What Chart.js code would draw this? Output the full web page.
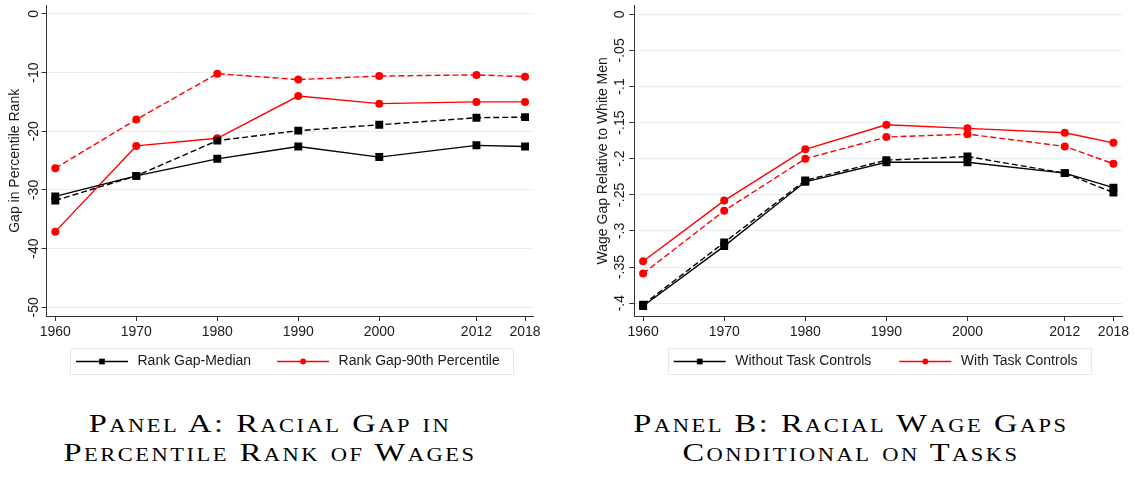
<!DOCTYPE html>
<html><head><meta charset="utf-8">
<script src="https://cdn.jsdelivr.net/npm/chart.js@4.4.1/dist/chart.umd.min.js"></script>
<style>
html,body{margin:0;padding:0;background:#fff;width:1135px;height:479px;overflow:hidden;}
.wrap{position:absolute;top:0;width:565px;height:385px;}
.cap{position:absolute;font-family:"Liberation Serif","Times New Roman",serif;font-variant:small-caps;font-size:26px;line-height:29.4px;letter-spacing:2px;text-align:center;color:#000;white-space:nowrap;transform:scaleX(1.25);transform-origin:50% 50%;}
</style></head><body>
<div class="wrap" style="left:0"><canvas id="cA" width="565" height="385"></canvas></div>
<div class="wrap" style="left:570px"><canvas id="cB" width="565" height="385"></canvas></div>
<div class="cap" style="left:0;width:540px;top:409px">Panel A: Racial Gap in<br>Percentile Rank of Wages</div>
<div class="cap" style="left:570px;width:562px;top:409px">Panel B: Racial Wage Gaps<br>Conditional on Tasks</div>
<script>
// ---------- data ----------
const years = [1960, 1970, 1980, 1990, 2000, 2012, 2018];

// Panel A: gap in percentile rank
const rankGapMedian       = [-31.1, -27.6, -24.7, -22.6, -24.4, -22.4, -22.6];
const rankGapMedianDashed = [-31.8, -27.6, -21.6, -19.9, -18.9, -17.7, -17.6];
const rankGap90           = [-37.1, -22.5, -21.2, -14.0, -15.3, -15.0, -15.0];
const rankGap90Dashed     = [-26.3, -18.0, -10.2, -11.2, -10.6, -10.4, -10.7];
const yTicksA      = [0, -10, -20, -30, -40, -50];
const yTickLabelsA = ["0", "-10", "-20", "-30", "-40", "-50"];

// Panel B: wage gap relative to white men
const withoutTask       = [-0.404, -0.321, -0.232, -0.205, -0.205, -0.220, -0.240];
const withoutTaskDashed = [-0.402, -0.316, -0.230, -0.202, -0.197, -0.220, -0.247];
const withTask          = [-0.342, -0.258, -0.187, -0.153, -0.158, -0.164, -0.178];
const withTaskDashed    = [-0.359, -0.272, -0.200, -0.170, -0.166, -0.183, -0.207];
const yTicksB      = [0, -0.05, -0.1, -0.15, -0.2, -0.25, -0.3, -0.35, -0.4];
const yTickLabelsB = ["0", "-.05", "-.1", "-.15", "-.2", "-.25", "-.3", "-.35", "-.4"];

// ---------- styling ----------
const FONT = '"Liberation Sans", Arial, Helvetica, sans-serif';
Chart.defaults.font.family = FONT;
const AXIS = '#333333';
const GRID = '#e6eef0';
const TEXT = '#1a1a1a';
const RED = '#ff0000';
const BLACK = '#000000';

function pts(arr) { return years.map((x, i) => ({ x: x, y: arr[i] })); }

function series(label, arr, color, style, dashed) {
  return {
    label: label,
    data: pts(arr),
    borderColor: color,
    backgroundColor: color,
    pointBackgroundColor: color,
    pointBorderColor: color,
    pointBorderWidth: 0,
    pointStyle: style,
    pointRadius: style === 'rect' ? 5.6 : 4,
    borderWidth: 1.4,
    borderDash: dashed ? [6, 3] : [],
    tension: 0
  };
}

// legend drawn in a thin box, like the original
const boxLegend = {
  id: 'boxLegend',
  afterDraw(chart, args, o) {
    const ctx = chart.ctx;
    ctx.save();
    ctx.font = '14px ' + FONT;
    const items = o.show.map(i => chart.data.datasets[i]);
    const widths = items.map(d => ctx.measureText(d.label).width);
    let w = o.pad + o.endPad;
    items.forEach((d, k) => { w += o.lineLen + o.gap + widths[k] + (k ? o.itemGap : 0); });
    ctx.strokeStyle = o.borderColor;
    ctx.lineWidth = 1;
    ctx.strokeRect(Math.round(o.left) + 0.5, Math.round(o.top) + 0.5, Math.round(w), o.height);
    const cy = o.top + o.height / 2 + 0.5;
    let x = o.left + o.pad;
    items.forEach((d, k) => {
      if (k) x += o.itemGap;
      ctx.strokeStyle = d.borderColor;
      ctx.lineWidth = d.borderWidth;
      ctx.setLineDash([]);
      ctx.beginPath(); ctx.moveTo(x, cy); ctx.lineTo(x + o.lineLen, cy); ctx.stroke();
      const mx = x + o.lineLen / 2;
      ctx.fillStyle = d.pointBackgroundColor;
      const r = d.pointRadius * o.markerScale;
      if (d.pointStyle === 'rect') {
        const s = r * Math.SQRT1_2;
        ctx.fillRect(mx - s, cy - s, 2 * s, 2 * s);
      } else {
        ctx.beginPath(); ctx.arc(mx, cy, r, 0, Math.PI * 2); ctx.fill();
      }
      ctx.fillStyle = TEXT;
      ctx.textBaseline = 'middle';
      ctx.textAlign = 'left';
      ctx.fillText(d.label, x + o.lineLen + o.gap, cy);
      x += o.lineLen + o.gap + widths[k];
    });
    ctx.restore();
  }
};

function makeChart(id, cfg) {
  return new Chart(document.getElementById(id), {
    type: 'line',
    data: { datasets: cfg.datasets },
    plugins: [boxLegend],
    options: {
      responsive: false,
      animation: false,
      events: [],
      layout: { padding: { left: 0, right: cfg.padRight, top: 3, bottom: 45 } },
      plugins: {
        legend: { display: false },
        tooltip: { enabled: false },
        boxLegend: Object.assign({
          show: [0, 2], top: 348, height: 26, pad: 6, lineLen: 52, gap: 9.5,
          itemGap: 26, endPad: 13.5, markerScale: 0.72, borderColor: '#e2ebed'
        }, cfg.legend)
      },
      scales: {
        x: {
          type: 'linear',
          min: 1958.9, max: 2019.07,
          afterBuildTicks: s => { s.ticks = years.map(v => ({ value: v })); },
          afterFit: s => { s.height = 24; },
          grid: { drawOnChartArea: false, drawTicks: true, tickLength: 5, tickColor: AXIS },
          border: { color: AXIS, width: 1 },
          ticks: { autoSkip: false, maxRotation: 0, minRotation: 0, padding: 3, color: TEXT,
                   font: { size: 14 }, callback: v => String(v) }
        },
        y: {
          type: 'linear',
          min: cfg.yMin, max: cfg.yMax,
          afterBuildTicks: s => { s.ticks = cfg.yTicks.map(v => ({ value: v })); },
          afterFit: s => { s.width = cfg.yWidth; },
          grid: { color: GRID, lineWidth: 1, drawTicks: true, tickLength: 5, tickColor: AXIS },
          border: { color: AXIS, width: 1 },
          ticks: { autoSkip: false, minRotation: 90, maxRotation: 90, crossAlign: 'center', padding: -3.3,
                   color: TEXT, font: { size: 14 },
                   callback: (v, i) => cfg.yLabels[i] },
          title: { display: true, text: cfg.yTitle, color: TEXT, font: { size: 14 },
                   padding: { top: cfg.titlePad, bottom: 0 } }
        }
      }
    }
  });
}

makeChart('cA', {
  datasets: [
    series('Rank Gap-Median', rankGapMedian, BLACK, 'rect', false),
    series('Rank Gap-Median (dashed)', rankGapMedianDashed, BLACK, 'rect', true),
    series('Rank Gap-90th Percentile', rankGap90, RED, 'circle', false),
    series('Rank Gap-90th Percentile (dashed)', rankGap90Dashed, RED, 'circle', true)
  ],
  yMin: -51.47, yMax: 1.4, yTicks: yTicksA, yLabels: yTickLabelsA,
  yTitle: 'Gap in Percentile Rank', yWidth: 46.4, titlePad: 7, padRight: 31.3,
  legend: { left: 70 }
});

makeChart('cB', {
  datasets: [
    series('Without Task Controls', withoutTask, BLACK, 'rect', false),
    series('Without Task Controls (dashed)', withoutTaskDashed, BLACK, 'rect', true),
    series('With Task Controls', withTask, RED, 'circle', false),
    series('With Task Controls (dashed)', withTaskDashed, RED, 'circle', true)
  ],
  yMin: -0.4178, yMax: 0.012, yTicks: yTicksB, yLabels: yTickLabelsB,
  yTitle: 'Wage Gap Relative to White Men', yWidth: 64.2, titlePad: 25, padRight: 12.9,
  legend: { left: 97.7, itemGap: 28 }
});
</script>
</body></html>
